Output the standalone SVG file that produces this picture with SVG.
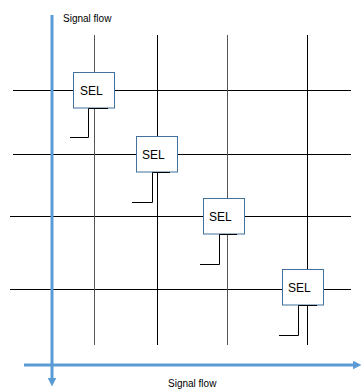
<svg xmlns="http://www.w3.org/2000/svg" width="361" height="390" viewBox="0 0 361 390">
<style>
.grid{stroke:#000;stroke-width:1;fill:none}
.gridg{stroke:#555;stroke-width:1;fill:none}
.flow{stroke:#5B9BD5;stroke-width:3;fill:none}
.box{fill:#fff;stroke:#41719C;stroke-width:1}
.hook{stroke:#000;stroke-width:1;fill:none}
.lbl{font-family:"Liberation Sans",Arial,sans-serif;font-size:12px;fill:#000}
.cap{font-family:"Liberation Sans",Arial,sans-serif;font-size:10px;fill:#000}
</style>
<defs>
<marker id="ah" viewBox="0 0 10 10" refX="5" refY="5" markerWidth="3" markerHeight="3" orient="auto" markerUnits="strokeWidth">
<path d="M0,0 L10,5 L0,10 z" fill="#5B9BD5"/>
</marker>
</defs>
<rect width="361" height="390" fill="#fff"/>
<g id="connectors">
<line class="grid" x1="13" y1="90.5" x2="351" y2="90.5"/>
<line class="grid" x1="13" y1="154.5" x2="351" y2="154.5"/>
<line class="grid" x1="10" y1="216.5" x2="351" y2="216.5"/>
<line class="grid" x1="10" y1="289.5" x2="351" y2="289.5"/>
<line class="gridg" x1="94.5" y1="35" x2="94.5" y2="345"/>
<line class="grid" x1="157.5" y1="35" x2="157.5" y2="345"/>
<line class="gridg" x1="227.5" y1="35" x2="227.5" y2="345"/>
<line class="grid" x1="307.5" y1="35" x2="307.5" y2="345"/>
<line class="flow" x1="52" y1="15" x2="52" y2="382" marker-end="url(#ah)"/>
<line class="flow" x1="24" y1="365" x2="357" y2="365" marker-end="url(#ah)"/>
</g>
<g id="sel1"><rect class="box" x="73.5" y="72.5" width="41" height="35.5"/><text class="lbl" x="80" y="95">SEL</text></g>
<g id="sel2"><rect class="box" x="136.5" y="136.5" width="41" height="35.5"/><text class="lbl" x="142" y="159">SEL</text></g>
<g id="sel3"><rect class="box" x="203.5" y="198.5" width="41" height="35.5"/><text class="lbl" x="209" y="221">SEL</text></g>
<g id="sel4"><rect class="box" x="282.5" y="269.5" width="41" height="35.5"/><text class="lbl" x="288" y="292">SEL</text></g>
<g id="outputs">
<polyline class="hook" points="70,137.5 88.5,137.5 88.5,108.5 108,108.5"/>
<polyline class="hook" points="132,202.5 152.5,202.5 152.5,172.5 170,172.5"/>
<polyline class="hook" points="200,264.5 219.5,264.5 219.5,234.5 237,234.5"/>
<polyline class="hook" points="279,335.5 298.5,335.5 298.5,305.5 317,305.5"/>
</g>
<g id="captions">
<text class="cap" x="63" y="22">Signal flow</text>
<text class="cap" x="168" y="387">Signal flow</text>
</g>
</svg>
